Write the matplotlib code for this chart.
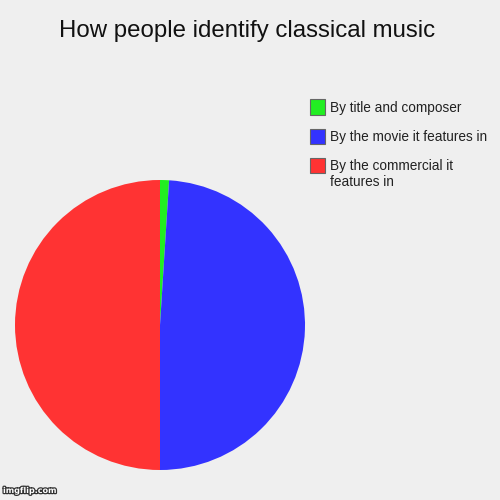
import matplotlib.pyplot as plt
import matplotlib.patheffects as pe
from matplotlib.patches import Rectangle

labels = ['By title and composer', 'By the movie it features in', 'By the commercial it\nfeatures in']
values = [1, 49, 50]
colors = ['#22ee22', '#3333ff', '#ff3333']

fig = plt.figure(figsize=(5, 5), dpi=100, facecolor='#efefef')

# pie
ax = fig.add_axes([0.03, 0.06, 0.58, 0.58])
ax.pie(values, colors=colors, startangle=90, counterclock=False,
       wedgeprops={'linewidth': 0})
ax.set_xlim(-1, 1)
ax.set_ylim(-1, 1)
ax.set_aspect('equal')
ax.axis('off')

fig.text(0.494, 0.937, 'How people identify classical music', ha='center', va='center',
         fontsize=17.3, family='Liberation Sans', color='#111111')

# legend drawn by hand
y0 = [0.786, 0.728, 0.670]
for lab, col, y in zip(labels, colors, y0):
    fig.patches.append(Rectangle((0.619, y - 0.015), 0.031, 0.03, transform=fig.transFigure,
                                 facecolor=col, edgecolor='#666666', linewidth=0.8))
    fig.text(0.66, y + 0.012, lab, ha='left', va='top', fontsize=9.8,
             family='Liberation Sans', color='#222222', linespacing=1.15)

fig.text(0.006, 0.01, 'imgflip.com', ha='left', va='bottom', fontsize=5.8,
         family='DejaVu Sans', color='white', fontweight='bold',
         path_effects=[pe.withStroke(linewidth=1.8, foreground='#333333')])

fig.savefig('out.png', dpi=100, facecolor=fig.get_facecolor())
